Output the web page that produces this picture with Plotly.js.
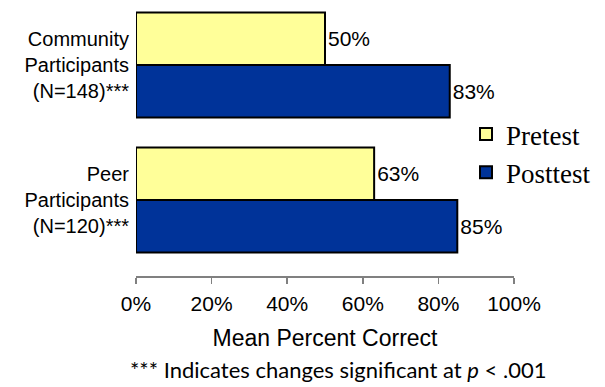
<!DOCTYPE html>
<html>
<head>
<meta charset="utf-8">
<script src="https://cdn.plot.ly/plotly-3.0.1.min.js"></script>
<style>html,body{margin:0;padding:0;background:#fff;}#chart{width:605px;height:387px;}</style>
</head>
<body>
<div id="chart"></div>
<script>
var categories = ["Community<br>Participants<br>(N=148)***", "Peer<br>Participants<br>(N=120)***"];
var pretest = [0.50, 0.63];
var posttest = [0.83, 0.85];
var seriesNames = ["Pretest", "Posttest"];
var tickValues = [0, 0.2, 0.4, 0.6, 0.8, 1.0];
var tickLabels = ["0%", "20%", "40%", "60%", "80%", "100%"];

function labels(arr) { return arr.map(function (v) { return Math.round(v * 100) + "%"; }); }

var SANS = "'Liberation Sans', Arial, sans-serif";
var SERIF = "'Liberation Serif', 'DejaVu Serif', serif";

var traces = [
  {
    type: "bar", orientation: "h", name: seriesNames[0],
    y: categories, x: pretest, text: labels(pretest),
    textposition: "outside", cliponaxis: false,
    textfont: {family: SANS, size: 21, color: "#000"},
    marker: {color: "#FFFF99", line: {color: "#000", width: 2}},
    hoverinfo: "x+name"
  },
  {
    type: "bar", orientation: "h", name: seriesNames[1],
    y: categories, x: posttest, text: labels(posttest),
    textposition: "outside", cliponaxis: false,
    textfont: {family: SANS, size: 21, color: "#000"},
    marker: {color: "#003399", line: {color: "#000", width: 2}},
    hoverinfo: "x+name"
  }
];

var layout = {
  width: 605, height: 387,
  margin: {l: 136, r: 91, t: 5, b: 111, pad: 0},
  paper_bgcolor: "#fff", plot_bgcolor: "#fff",
  barmode: "group", bargap: 0.222, bargroupgap: 0,
  font: {family: SANS, size: 21, color: "#000"},
  xaxis: {
    range: [0, 1], tickvals: tickValues, ticktext: tickLabels,
    showgrid: false, zeroline: false,
    showline: true, linecolor: "#808080", linewidth: 1.5,
    ticks: "outside", ticklen: 6, tickcolor: "#808080", tickwidth: 1.5,
    ticklabelstandoff: 2,
    tickfont: {family: SANS, size: 21, color: "#000"},
    title: {text: "Mean Percent Correct", font: {family: SANS, size: 23, color: "#000"}, standoff: 16},
    fixedrange: true
  },
  yaxis: {
    type: "category", range: [1.563, -0.444],
    showgrid: false, zeroline: false, showline: false, ticks: "",
    ticklabelstandoff: 6,
    tickfont: {family: SANS, size: 20, color: "#000"},
    fixedrange: true
  },
  legend: {
    x: (466 - 136) / 378, xanchor: "left", xref: "paper",
    y: 0.452, yanchor: "middle",
    font: {family: SERIF, size: 27, color: "#000"},
    bgcolor: "rgba(0,0,0,0)", borderwidth: 0, itemwidth: 30, traceorder: "normal"
  },
  annotations: [
    {
      xref: "paper", yref: "paper", x: (338 - 136) / 378, y: -(369 - 276) / 271,
      xanchor: "center", yanchor: "middle", showarrow: false,
      text: "*** Indicates changes significant at <i>p</i> < .001",
      font: {family: "Lato, 'Open Sans', sans-serif", size: 22, color: "#000"}
    }
  ],
  showlegend: true
};

Plotly.newPlot("chart", traces, layout, {displayModeBar: false, staticPlot: true});
</script>
</body>
</html>
